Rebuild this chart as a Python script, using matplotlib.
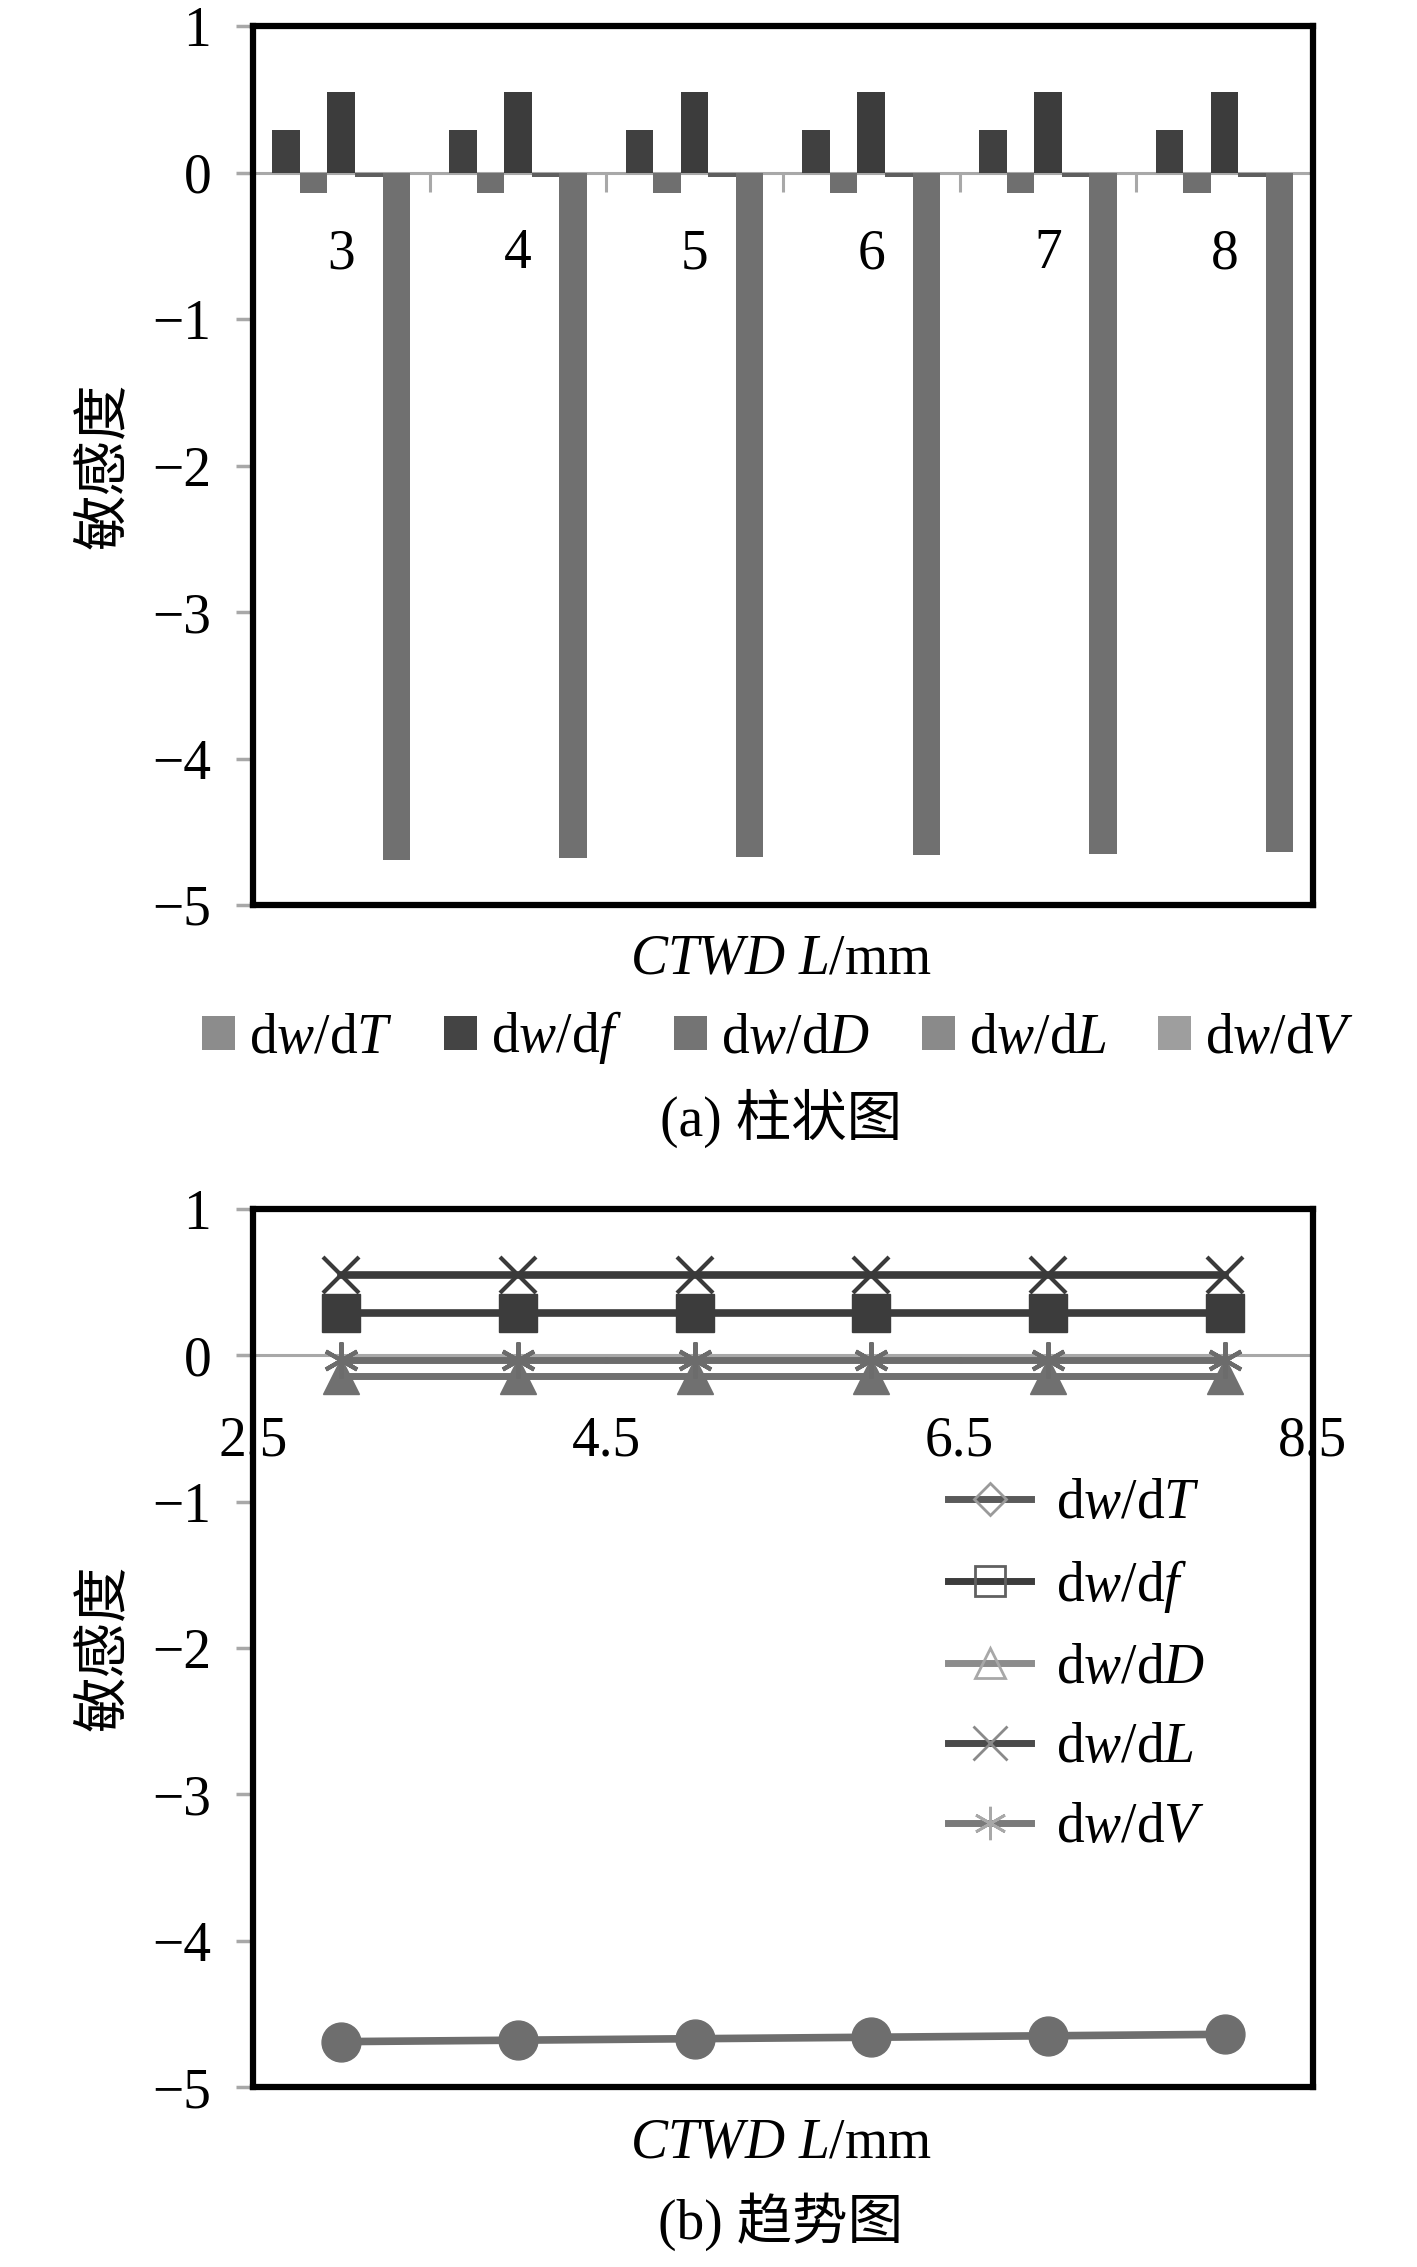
import matplotlib
matplotlib.use("Agg")
import matplotlib.pyplot as plt
from matplotlib.patches import Patch
from matplotlib.lines import Line2D
import numpy as np

plt.rcParams["font.family"] = ["Liberation Serif", "Noto Sans CJK SC"]
plt.rcParams["mathtext.fontset"] = "custom"
plt.rcParams["mathtext.rm"] = "Liberation Serif"
plt.rcParams["mathtext.it"] = "Liberation Serif:italic"

# data
ctwd = [3, 4, 5, 6, 7, 8]
series = ["T", "f", "D", "L", "V"]
labels = [r"d$w$/d$T$", r"d$w$/d$f$", r"d$w$/d$D$", r"d$w$/d$L$", r"d$w$/d$V$"]
dw_dT = [-4.69, -4.68, -4.67, -4.66, -4.65, -4.64]
dw_df = [0.29, 0.29, 0.29, 0.29, 0.29, 0.29]
dw_dD = [-0.14, -0.14, -0.14, -0.14, -0.14, -0.14]
dw_dL = [0.55, 0.55, 0.55, 0.55, 0.55, 0.55]
dw_dV = [-0.03, -0.03, -0.03, -0.03, -0.03, -0.03]
values = {"T": dw_dT, "f": dw_df, "D": dw_dD, "L": dw_dL, "V": dw_dV}
yticks = [-5, -4, -3, -2, -1, 0, 1]
trend_xticks = [2.5, 4.5, 6.5, 8.5]

# styles
bar_slot = {"f": 0, "D": 1, "L": 2, "V": 3, "T": 4}
bar_color = {"T": "#707070", "f": "#404040", "D": "#6f6f6f", "L": "#3c3c3c", "V": "#5e5e5e"}
bar_legend_color = {"T": "#8c8c8c", "f": "#444444", "D": "#747474", "L": "#8a8a8a", "V": "#9e9e9e"}
line_style = {
    "T": dict(color="#6e6e6e", lw=5.5, marker="o", ms=28, mfc="#6e6e6e", mec="#6e6e6e"),
    "f": dict(color="#3c3c3c", lw=5.5, marker="s", ms=28, mfc="#3c3c3c", mec="#3c3c3c"),
    "D": dict(color="#707070", lw=5, marker="^", ms=26, mfc="#707070", mec="#707070"),
    "L": dict(color="#3a3a3a", lw=5.5, marker="x", ms=26, mec="#3a3a3a", mew=3),
    "V": dict(color="#6c6c6c", lw=5, marker=(6, 2, 0), ms=26, mec="#6c6c6c", mew=3),
}
leg_style = {
    "T": dict(color="#5a5a5a", marker="D", ms=16, mec="#9a9a9a"),
    "f": dict(color="#3c3c3c", marker="s", ms=22, mec="#606060"),
    "D": dict(color="#8c8c8c", marker="^", ms=22, mec="#a8a8a8"),
    "L": dict(color="#4a4a4a", marker="x", ms=24, mec="#8a8a8a"),
    "V": dict(color="#7a7a7a", marker=(6, 2, 0), ms=24, mec="#a8a8a8"),
}
fs = 40
tick_gray = "#a8a8a8"

fig = plt.figure(figsize=(14.17, 22.67), dpi=100)


def style_frame(ax):
    for s in ax.spines.values():
        s.set_linewidth(4.5)
        s.set_color("black")
    ax.set_ylim(-5, 1)
    ax.set_yticks(yticks)
    ax.tick_params(axis="y", direction="out", length=12, width=2.5, color=tick_gray,
                   labelsize=fs, pad=18)
    ax.tick_params(axis="x", bottom=False, labelbottom=False)
    ax.set_ylabel("敏感度", fontsize=fs)
    ax.yaxis.set_label_coords(-0.115, 0.5)


# (a) bar chart
ax1 = fig.add_axes([0.1785, 0.6008, 0.748, 0.3877])
x = np.arange(len(ctwd))
w = 0.156
for key in series:
    ax1.bar(x + (bar_slot[key] - 2) * w, values[key], w, color=bar_color[key], zorder=2)
ax1.set_xlim(-0.5, len(ctwd) - 0.5)
style_frame(ax1)

sec1 = ax1.secondary_xaxis(5 / 6)
sec1.set_alignment("bottom")
sec1.spines["bottom"].set_color(tick_gray)
sec1.spines["bottom"].set_linewidth(2.2)
sec1.set_xticks(x, [str(c) for c in ctwd])
sec1.set_xticks(x[:-1] + 0.5, minor=True)
sec1.tick_params(which="major", length=0, labelsize=fs, pad=40)
sec1.tick_params(which="minor", length=14, width=2.2, color=tick_gray, direction="out")

fig.text(781 / 1417, 1 - 959 / 2267, r"$CTWD$ $L$/mm", ha="center", va="center", fontsize=fs)
bar_handles = [Patch(facecolor=bar_legend_color[k]) for k in series]
fig.legend(bar_handles, labels, loc="center", bbox_to_anchor=(778 / 1417, 1 - 1038 / 2267),
           ncol=5, frameon=False, fontsize=fs, handlelength=0.6, handleheight=0.55,
           handletextpad=0.25, columnspacing=0.92, borderpad=0, borderaxespad=0)
fig.text(781 / 1417, 1 - 1118 / 2267, "(a) 柱状图", ha="center", va="center", fontsize=fs)

# (b) trend chart
ax2 = fig.add_axes([0.1785, 0.0794, 0.748, 0.3873])
for key in series:
    ax2.plot(ctwd, values[key], **line_style[key])
ax2.set_xlim(2.5, 8.5)
style_frame(ax2)

sec2 = ax2.secondary_xaxis(5 / 6)
sec2.set_alignment("bottom")
sec2.spines["bottom"].set_color(tick_gray)
sec2.spines["bottom"].set_linewidth(2.2)
sec2.set_xticks(trend_xticks, [str(t) for t in trend_xticks])
sec2.tick_params(length=6, width=2.2, color=tick_gray, direction="out", labelsize=fs, pad=37)

line_handles = [Line2D([], [], lw=5, mfc="none", mew=2, **leg_style[k]) for k in series]
fig.legend(line_handles, labels, loc="center left", bbox_to_anchor=(0.669, 1 - 1666 / 2267),
           frameon=False, fontsize=fs, handlelength=1.5, handletextpad=0.45,
           labelspacing=0.5, borderpad=0, borderaxespad=0)

fig.text(781 / 1417, 1 - 2143 / 2267, r"$CTWD$ $L$/mm", ha="center", va="center", fontsize=fs)
fig.text(781 / 1417, 1 - 2222 / 2267, "(b) 趋势图", ha="center", va="center", fontsize=fs)

fig.savefig("out.png", dpi=100)
